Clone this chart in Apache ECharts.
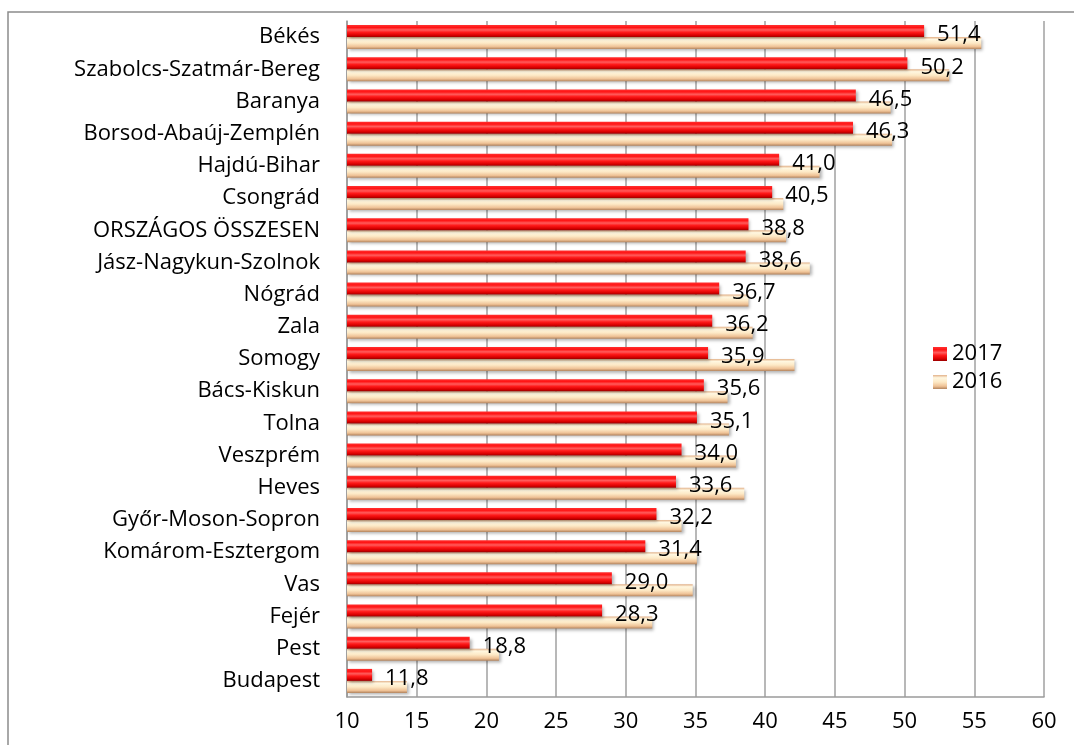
<!DOCTYPE html>
<html>
<head>
<meta charset="utf-8">
<script src="https://cdn.jsdelivr.net/npm/echarts@6/dist/echarts.min.js"></script>
<style>
  html, body { margin: 0; padding: 0; background: #fff; }
  #chart { width: 1074px; height: 745px; }
</style>
</head>
<body>
<div id="chart"></div>
<script>
var counties = ['Békés', 'Szabolcs-Szatmár-Bereg', 'Baranya', 'Borsod-Abaúj-Zemplén', 'Hajdú-Bihar',
    'Csongrád', 'ORSZÁGOS ÖSSZESEN', 'Jász-Nagykun-Szolnok', 'Nógrád', 'Zala', 'Somogy',
    'Bács-Kiskun', 'Tolna', 'Veszprém', 'Heves', 'Győr-Moson-Sopron', 'Komárom-Esztergom',
    'Vas', 'Fejér', 'Pest', 'Budapest'];
var values2017 = [51.4, 50.2, 46.5, 46.3, 41.0, 40.5, 38.8, 38.6, 36.7, 36.2, 35.9,
    35.6, 35.1, 34.0, 33.6, 32.2, 31.4, 29.0, 28.3, 18.8, 11.8];
// 2016 has no labels in the picture, read from the bar ends
var values2016 = [55.5, 53.2, 49.0, 49.1, 43.9, 41.3, 41.5, 43.2, 38.8, 39.1, 42.1,
    37.3, 37.4, 37.9, 38.5, 34.0, 35.1, 34.8, 31.9, 20.9, 14.3];
var seriesNames = ['2017', '2016'];
var fontFamily = '"Open Sans", "Noto Sans", sans-serif';

var redFill = new echarts.graphic.LinearGradient(0, 0, 0, 1, [
    {offset: 0, color: '#ff3030'},
    {offset: 0.2, color: '#ff1414'},
    {offset: 0.4, color: '#ff5c5c'},
    {offset: 0.6, color: '#ff1a1a'},
    {offset: 0.85, color: '#d80000'},
    {offset: 1, color: '#980000'}
]);
var tanFill = new echarts.graphic.LinearGradient(0, 0, 0, 1, [
    {offset: 0, color: '#e2b088'},
    {offset: 0.2, color: '#fff7e0'},
    {offset: 0.5, color: '#fde9c6'},
    {offset: 0.8, color: '#efc296'},
    {offset: 1, color: '#b3845e'}
]);

var myChart = echarts.init(document.getElementById('chart'));
var option = {
    animation: false,
    graphic: [{
        type: 'rect',
        shape: {x: 8, y: 12, width: 1100, height: 800},
        style: {fill: 'none', stroke: '#8c8c8c', lineWidth: 1.5},
        silent: true
    }],
    legend: {
        orient: 'vertical',
        left: 928,
        top: 338,
        itemWidth: 14,
        itemHeight: 14,
        itemGap: 6,
        icon: 'rect',
        data: seriesNames,
        textStyle: {fontFamily: fontFamily, fontSize: 22, color: '#000'}
    },
    grid: {left: 347, right: 30, top: 21, bottom: 48},
    xAxis: {
        type: 'value',
        min: 10,
        max: 60,
        interval: 5,
        axisLine: {show: true, lineStyle: {color: '#9a9a9a', width: 1.5}},
        axisTick: {show: false},
        axisLabel: {fontFamily: fontFamily, fontSize: 22, color: '#000', margin: 14},
        splitLine: {show: true, lineStyle: {color: '#a0a0a0', width: 1.5}}
    },
    yAxis: {
        type: 'category',
        inverse: true,
        data: counties,
        axisLine: {show: true, lineStyle: {color: '#9a9a9a', width: 1.5}},
        axisTick: {show: false},
        axisLabel: {fontFamily: fontFamily, fontSize: 22, color: '#000', margin: 27}
    },
    series: [
        {
            name: seriesNames[0],
            type: 'bar',
            data: values2017,
            barWidth: 12,
            barGap: '0%',
            z: 3,
            itemStyle: {
                color: redFill,
                shadowColor: 'rgba(0,0,0,0.3)', shadowBlur: 3, shadowOffsetX: 2, shadowOffsetY: 2
            },
            label: {
                show: true,
                position: 'right',
                distance: 13,
                offset: [0, 4],
                fontFamily: fontFamily,
                fontSize: 22,
                color: '#000',
                formatter: function (params) {
                    return params.value.toFixed(1).replace('.', ',');
                }
            }
        },
        {
            name: seriesNames[1],
            type: 'bar',
            data: values2016,
            barWidth: 12,
            barGap: '0%',
            z: 2,
            itemStyle: {
                color: tanFill,
                shadowColor: 'rgba(0,0,0,0.3)', shadowBlur: 3, shadowOffsetX: 2, shadowOffsetY: 2
            }
        }
    ]
};
myChart.setOption(option);
</script>
</body>
</html>
